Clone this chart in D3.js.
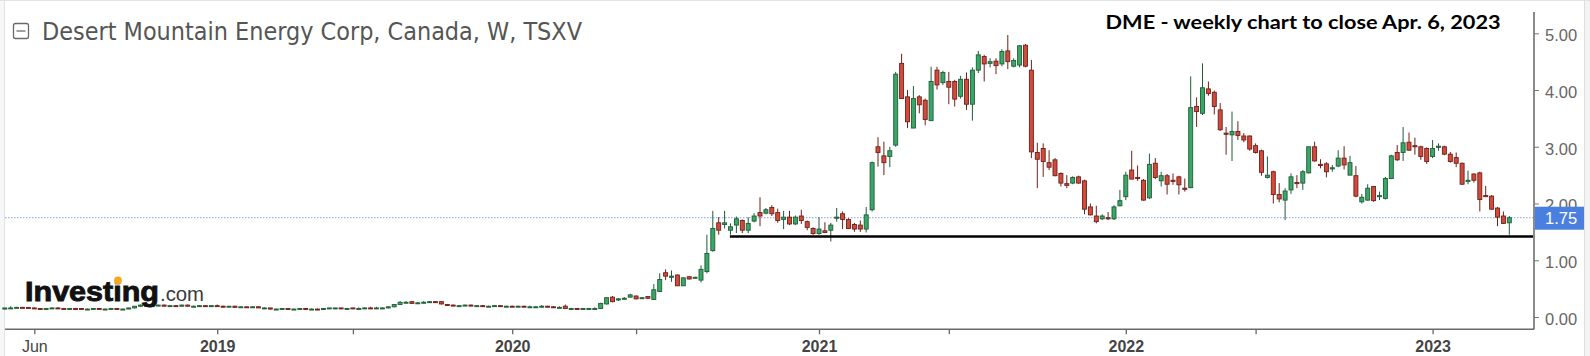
<!DOCTYPE html>
<html><head><meta charset="utf-8">
<script src="https://cdn.jsdelivr.net/npm/d3@7"></script>
<style>html,body{margin:0;padding:0;background:#fff;} svg{display:block;}</style>
</head><body><svg id="c" width="1590" height="356"></svg>
<script>
// Weekly OHLC, Desert Mountain Energy (DME), one entry per weekly bar
const open=[
0.14,0.16,0.17,0.17,0.17,0.16,0.15,0.15,0.15,0.16,
0.15,0.14,0.15,0.15,0.14,0.14,0.15,0.14,0.14,0.15,
0.14,0.14,0.16,0.19,0.21,0.20,0.20,0.21,0.19,0.20,
0.19,0.21,0.19,0.19,0.20,0.19,0.20,0.19,0.18,0.19,
0.17,0.18,0.17,0.18,0.16,0.16,0.14,0.14,0.15,0.14,
0.14,0.15,0.14,0.14,0.14,0.15,0.16,0.16,0.15,0.16,
0.15,0.15,0.16,0.15,0.16,0.16,0.18,0.22,0.26,0.27,
0.25,0.25,0.26,0.27,0.27,0.22,0.21,0.20,0.20,0.21,
0.20,0.20,0.19,0.19,0.20,0.19,0.19,0.18,0.19,0.18,
0.18,0.18,0.19,0.18,0.17,0.19,0.15,0.15,0.14,0.15,
0.15,0.15,0.23,0.35,0.30,0.32,0.35,0.37,0.33,0.36,
0.31,0.45,0.78,0.70,0.74,0.55,0.71,0.69,0.65,0.80,
1.17,1.66,1.63,1.53,1.62,1.70,1.53,1.69,1.84,1.83,
1.93,1.84,1.72,1.76,1.64,1.78,1.68,1.56,1.47,1.52,
1.53,1.74,1.82,1.72,1.63,1.62,1.55,1.89,3.00,2.84,
2.83,3.03,4.47,3.88,3.33,3.88,3.82,3.46,4.35,4.13,
4.15,4.15,3.89,4.19,3.75,4.35,4.59,4.47,4.51,4.46,
4.69,4.42,4.44,4.79,4.35,2.90,2.97,2.72,2.77,2.53,
2.35,2.36,2.47,2.40,1.94,1.78,1.73,1.75,1.73,1.96,
2.12,2.59,2.46,2.41,2.10,2.71,2.40,2.49,2.41,2.47,
2.27,2.28,3.71,3.59,4.02,3.96,3.65,3.24,3.21,3.27,
3.19,3.19,3.02,2.93,2.46,2.56,2.16,2.06,2.24,2.37,
2.36,2.54,3.00,2.69,2.70,2.61,2.66,2.80,2.50,2.49,
2.03,2.06,2.30,2.12,2.09,2.44,2.90,2.90,3.08,3.02,
3.00,2.97,2.83,2.99,3.00,2.87,2.81,2.71,2.39,2.52,
2.54,2.14,2.13,1.92,1.78,1.66];
const high=[
0.16,0.19,0.18,0.18,0.17,0.17,0.16,0.16,0.17,0.17,
0.16,0.16,0.16,0.15,0.15,0.16,0.15,0.15,0.16,0.16,
0.15,0.16,0.19,0.22,0.22,0.21,0.22,0.22,0.21,0.21,
0.22,0.22,0.20,0.21,0.20,0.21,0.22,0.20,0.19,0.20,
0.19,0.18,0.19,0.19,0.17,0.16,0.15,0.15,0.15,0.15,
0.15,0.15,0.15,0.15,0.15,0.16,0.16,0.16,0.16,0.16,
0.17,0.17,0.18,0.18,0.17,0.18,0.23,0.28,0.28,0.28,
0.26,0.28,0.28,0.28,0.28,0.23,0.22,0.21,0.22,0.22,
0.21,0.21,0.20,0.21,0.21,0.20,0.20,0.20,0.20,0.20,
0.19,0.21,0.20,0.19,0.19,0.22,0.16,0.16,0.16,0.16,
0.17,0.25,0.35,0.37,0.33,0.35,0.41,0.38,0.35,0.37,
0.58,0.77,0.84,0.82,0.75,0.70,0.72,0.71,0.91,1.45,
1.87,1.76,1.87,1.65,1.77,1.72,1.76,1.83,2.11,1.92,
1.97,1.91,1.87,1.87,1.79,1.89,1.70,1.58,1.76,1.67,
1.66,1.92,1.86,1.74,1.66,1.70,1.94,2.74,3.17,3.09,
3.00,4.32,4.64,4.00,4.07,3.91,3.85,4.41,4.41,4.34,
4.32,4.18,4.25,4.31,4.40,4.69,4.62,4.56,4.56,4.72,
4.97,4.56,4.79,4.81,4.53,3.07,3.06,2.94,2.80,2.55,
2.50,2.48,2.49,2.42,2.00,1.96,1.81,1.85,1.97,2.24,
2.56,2.93,2.67,2.43,2.88,2.80,2.56,2.52,2.53,2.49,
2.44,4.24,3.87,4.47,4.15,3.99,3.77,3.35,3.62,3.45,
3.24,3.20,3.06,2.95,2.83,2.58,2.36,2.27,2.53,2.50,
2.59,3.00,3.09,2.78,2.73,2.68,2.94,3.01,2.84,2.66,
2.17,2.34,2.31,2.21,2.47,2.86,3.03,3.35,3.25,3.16,
3.02,2.99,3.12,3.06,3.02,2.91,2.90,2.72,2.58,2.53,
2.56,2.31,2.15,1.94,1.86,1.78];
const low=[
0.13,0.15,0.16,0.16,0.15,0.15,0.14,0.14,0.14,0.15,
0.14,0.14,0.14,0.13,0.13,0.13,0.13,0.13,0.14,0.14,
0.13,0.14,0.15,0.18,0.19,0.18,0.19,0.19,0.18,0.18,
0.18,0.19,0.18,0.18,0.18,0.18,0.19,0.17,0.17,0.17,
0.16,0.16,0.16,0.16,0.15,0.13,0.13,0.13,0.13,0.13,
0.13,0.13,0.13,0.13,0.13,0.14,0.14,0.14,0.14,0.14,
0.14,0.14,0.15,0.14,0.15,0.15,0.17,0.21,0.24,0.23,
0.24,0.24,0.25,0.25,0.22,0.20,0.19,0.19,0.19,0.19,
0.19,0.19,0.18,0.18,0.18,0.18,0.18,0.18,0.18,0.17,
0.17,0.17,0.17,0.16,0.16,0.15,0.14,0.14,0.14,0.14,
0.14,0.14,0.22,0.26,0.28,0.31,0.34,0.31,0.32,0.32,
0.30,0.44,0.65,0.62,0.55,0.55,0.66,0.68,0.61,0.77,
1.15,1.45,1.56,1.45,1.48,1.48,1.48,1.67,1.60,1.81,
1.78,1.66,1.55,1.62,1.62,1.64,1.53,1.45,1.45,1.48,
1.33,1.68,1.55,1.55,1.50,1.50,1.49,1.86,2.65,2.50,
2.64,3.00,3.85,3.33,3.33,3.59,3.38,3.46,4.01,4.09,
3.75,3.71,3.85,3.65,3.46,4.30,4.15,4.40,4.28,4.42,
4.37,4.40,4.40,4.40,2.80,2.27,2.47,2.59,2.48,2.30,
2.27,2.34,2.35,1.81,1.79,1.65,1.71,1.71,1.71,1.95,
2.06,2.43,2.40,2.05,2.08,2.43,2.30,2.16,2.33,2.16,
2.21,2.27,3.35,3.56,3.90,3.57,3.28,2.86,2.75,3.12,
3.08,2.93,2.88,2.49,2.44,2.00,2.02,1.71,2.17,2.27,
2.24,2.53,2.74,2.62,2.46,2.56,2.64,2.60,2.50,2.11,
2.00,2.05,2.03,2.06,2.07,2.43,2.75,2.75,2.93,2.86,
2.77,2.70,2.80,2.93,2.85,2.72,2.64,2.33,2.34,2.37,
1.86,2.12,1.89,1.60,1.64,1.45];
const close=[
0.16,0.16,0.17,0.16,0.15,0.15,0.14,0.15,0.16,0.15,
0.14,0.15,0.14,0.14,0.14,0.15,0.14,0.14,0.15,0.14,
0.14,0.16,0.19,0.21,0.20,0.20,0.21,0.19,0.20,0.19,
0.21,0.19,0.19,0.20,0.19,0.20,0.19,0.18,0.19,0.17,
0.18,0.17,0.18,0.16,0.16,0.14,0.14,0.15,0.14,0.14,
0.15,0.14,0.14,0.13,0.15,0.16,0.16,0.15,0.15,0.15,
0.15,0.16,0.15,0.16,0.16,0.18,0.22,0.26,0.26,0.24,
0.25,0.26,0.27,0.26,0.23,0.21,0.20,0.20,0.21,0.20,
0.20,0.19,0.19,0.20,0.19,0.19,0.18,0.19,0.18,0.18,
0.18,0.19,0.18,0.17,0.17,0.15,0.15,0.14,0.15,0.15,
0.15,0.24,0.34,0.27,0.32,0.33,0.39,0.32,0.34,0.33,
0.48,0.66,0.72,0.72,0.55,0.69,0.67,0.70,0.84,1.12,
1.56,1.53,1.66,1.59,1.73,1.53,1.65,1.78,1.78,1.89,
1.82,1.70,1.76,1.64,1.76,1.70,1.58,1.47,1.55,1.49,
1.62,1.76,1.72,1.56,1.55,1.55,1.80,2.72,2.90,2.72,
2.93,4.28,3.85,3.44,3.85,3.74,3.48,4.15,4.09,4.31,
4.05,3.84,4.19,3.75,4.35,4.62,4.46,4.50,4.43,4.68,
4.50,4.52,4.78,4.42,2.91,2.78,2.74,2.64,2.49,2.36,
2.32,2.46,2.36,1.90,1.80,1.68,1.78,1.73,1.94,2.05,
2.50,2.43,2.44,2.06,2.69,2.46,2.49,2.34,2.39,2.33,
2.25,3.69,3.62,4.04,3.94,3.71,3.30,3.22,3.27,3.20,
3.12,2.96,2.90,2.55,2.50,2.16,2.08,2.22,2.47,2.35,
2.56,3.00,2.75,2.67,2.56,2.63,2.80,2.68,2.72,2.13,
2.11,2.27,2.05,2.14,2.44,2.84,2.77,3.07,2.94,3.00,
2.83,2.74,2.97,3.01,2.87,2.74,2.71,2.34,2.41,2.41,
2.07,2.12,1.90,1.76,1.65,1.75];

const tickIndex=[5,36,59,86,107,138,160,190,212,242];
const tickLabel=["Jun","2019","","2020","","2021","","2022","","2023"];
const priceTicks=[0,1,2,3,4,5];
const lastPrice=1.75;
const supportLevel=1.42;
const supportFromIndex=122.9;
const headerText="Desert Mountain Energy Corp, Canada, W, TSXV";
const titleText="DME - weekly chart to close Apr. 6, 2023";

const svg=d3.select("#c");
const plotRight=1534, axisY=329.3;
const x=d3.scaleLinear().domain([0,open.length-1]).range([4.8,1509.3]);
const y=d3.scaleLinear().domain([0,5]).range([317,33.3]);

// frame
svg.append("rect").attr("x",1584).attr("y",0).attr("width",6).attr("height",356).attr("fill","#f4f4f4");
svg.append("rect").attr("x",0).attr("y",0).attr("width",4.5).attr("height",356).attr("fill","#f6f7f9");
svg.append("line").attr("x1",0).attr("x2",1590).attr("y1",0.5).attr("y2",0.5).attr("stroke","#e2e2e2");
svg.append("line").attr("x1",4.5).attr("x2",4.5).attr("y1",0).attr("y2",356).attr("stroke","#e0e2e6");
svg.append("line").attr("x1",1584.5).attr("x2",1584.5).attr("y1",0).attr("y2",356).attr("stroke","#dedede");

// header
const hg=svg.append("g");
hg.append("rect").attr("x",13.5).attr("y",23.5).attr("width",15).attr("height",15).attr("rx",2)
  .attr("fill","none").attr("stroke","#6a6a6a").attr("stroke-width",1.3);
hg.append("line").attr("x1",16.5).attr("x2",25.5).attr("y1",31).attr("y2",31).attr("stroke","#6a6a6a").attr("stroke-width",1.3);
hg.append("text").attr("x",42).attr("y",40).attr("font-family","DejaVu Sans").attr("font-size",24)
  .attr("fill","#555").attr("textLength",540).attr("lengthAdjust","spacingAndGlyphs").text(headerText);
svg.append("text").attr("x",1105.6).attr("y",28.7).attr("font-family","Lato, 'Open Sans', sans-serif").attr("font-weight","bold")
  .attr("font-size",19.5).attr("fill","#000").attr("textLength",395).attr("lengthAdjust","spacingAndGlyphs").text(titleText);

// last price dotted line
svg.append("line").attr("x1",5).attr("x2",plotRight).attr("y1",y(lastPrice)).attr("y2",y(lastPrice))
  .attr("stroke","#86a3da").attr("stroke-width",1).attr("stroke-dasharray","1.5,1.5");

// candles
const idx=d3.range(open.length);
const up=i=>close[i]>=open[i];
const cg=svg.append("g");
cg.selectAll("line.w").data(idx).join("line").attr("class","w")
  .attr("x1",i=>x(i)).attr("x2",i=>x(i)).attr("y1",i=>y(high[i])).attr("y2",i=>y(low[i]))
  .attr("stroke",i=>up(i)?"#1f5c37":"#6e2019").attr("stroke-width",1);
cg.selectAll("rect.b").data(idx).join("rect").attr("class","b")
  .attr("x",i=>x(i)-2).attr("width",4)
  .attr("y",i=>Math.min(y(open[i]),y(close[i])))
  .attr("height",i=>Math.max(1,Math.abs(y(open[i])-y(close[i]))))
  .attr("fill",i=>up(i)?"#3aa768":"#d24a3c")
  .attr("stroke",i=>up(i)?"#1f5c37":"#6e2019").attr("stroke-width",0.9);

// support line
svg.append("line").attr("x1",x(supportFromIndex)).attr("x2",1533).attr("y1",y(supportLevel)).attr("y2",y(supportLevel))
  .attr("stroke","#000").attr("stroke-width",2.4);

// axes
svg.append("line").attr("x1",5).attr("x2",plotRight).attr("y1",axisY).attr("y2",axisY).attr("stroke","#6a6a6a").attr("stroke-width",1.4);
svg.append("line").attr("x1",plotRight).attr("x2",plotRight).attr("y1",12).attr("y2",axisY).attr("stroke","#5a5a5a").attr("stroke-width",1.4);

const ya=svg.append("g").attr("transform",`translate(${plotRight},0)`)
  .call(d3.axisRight(y).tickValues(priceTicks).tickFormat(d3.format(".2f")).tickSize(5).tickPadding(6));
ya.select(".domain").remove();
ya.selectAll(".tick line").attr("stroke","#777");
ya.selectAll(".tick text").attr("font-family","Liberation Sans, Arial, sans-serif").attr("font-size",16.5)
  .attr("fill","#666").attr("dy","0.45em");

const xa=svg.append("g").attr("transform",`translate(0,${axisY})`)
  .call(d3.axisBottom(x).tickValues(tickIndex).tickFormat((d,i)=>tickLabel[i]).tickSize(5).tickPadding(6.3));
xa.select(".domain").remove();
xa.selectAll(".tick line").attr("stroke","#666").attr("stroke-width",1.3);
xa.selectAll(".tick text").attr("font-family","Liberation Sans, Arial, sans-serif").attr("font-size",16)
  .attr("fill","#444").attr("font-weight",(d,i)=>/^\d/.test(tickLabel[i])?"bold":"normal");

// last price label
const ly=y(lastPrice);
svg.append("rect").attr("x",plotRight+1).attr("y",ly-11).attr("width",49).attr("height",23).attr("fill","#4a7fdf");
svg.append("text").attr("x",1545).attr("y",ly+6.5).attr("font-family","Liberation Sans, Arial, sans-serif")
  .attr("font-size",16.5).attr("fill","#fff").text(d3.format(".2f")(lastPrice));

// logo
const lg=svg.append("g");
lg.append("text").attr("x",25).attr("y",301).attr("font-family","Liberation Sans, Arial, sans-serif").attr("font-weight","bold")
  .attr("font-size",28).attr("fill","#111").attr("stroke","#111").attr("stroke-width",0.9)
  .attr("textLength",134).attr("lengthAdjust","spacingAndGlyphs").text("Investing");
lg.append("text").attr("x",160).attr("y",301).attr("font-family","Liberation Sans, Arial, sans-serif")
  .attr("font-size",20).attr("fill","#3a3a3a").attr("textLength",44).attr("lengthAdjust","spacingAndGlyphs").text(".com");
lg.append("circle").attr("cx",118).attr("cy",280.5).attr("r",3.9).attr("fill","#f5a623");
</script></body></html>
